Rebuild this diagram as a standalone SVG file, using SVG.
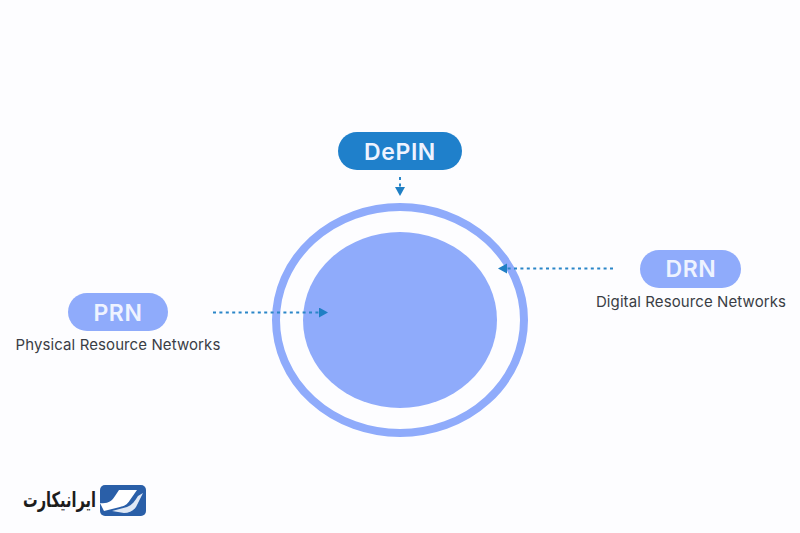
<svg xmlns="http://www.w3.org/2000/svg" width="800" height="533" viewBox="0 0 800 533">
<style>
.pill{fill:#8fabfb}
.lab{font-family:Inter,"Noto Sans","Liberation Sans",sans-serif;font-weight:600;fill:#eef3ff;text-anchor:middle;letter-spacing:.6px}
.sub{font-family:Inter,"Noto Sans","Liberation Sans",sans-serif;font-size:15px;fill:#3a3d45;text-anchor:middle;letter-spacing:.1px}
.dash{fill:none;stroke:#2a86c8;stroke-width:2;stroke-dasharray:3 3.4}
</style>
<defs>
<marker id="ah" markerUnits="userSpaceOnUse" markerWidth="11" markerHeight="11" refX="9" refY="5" orient="auto"><path d="M0 0L9 5L0 10Z" fill="#1f7fc4"/></marker>
</defs>
<rect width="800" height="533" fill="#fdfdff"/>
<g id="circle">
<ellipse cx="400" cy="320" rx="124" ry="113" fill="none" stroke="#8fabfb" stroke-width="8"/>
<ellipse cx="400" cy="320" rx="97" ry="88" fill="#8fabfb"/>
</g>
<g id="connectors">
<path class="dash" d="M400 177V196" marker-end="url(#ah)"/>
<path class="dash" d="M613 268.500H498" marker-end="url(#ah)"/>
<path class="dash" d="M213 312.500H328" marker-end="url(#ah)"/>
</g>
<g id="depin">
<rect x="338" y="132" width="124" height="38" rx="19" fill="#1f80cb"/>
<text class="lab" x="400" y="160" font-size="23">DePIN</text>
</g>
<g id="drn">
<rect x="640" y="250" width="101" height="38" rx="19" class="pill"/>
<text class="lab" x="691" y="277" font-size="23">DRN</text>
<text class="sub" x="691" y="307">Digital Resource Networks</text>
</g>
<g id="prn">
<rect x="68" y="293" width="100" height="38" rx="19" class="pill"/>
<text class="lab" x="118" y="321" font-size="23">PRN</text>
<text class="sub" x="118" y="350">Physical Resource Networks</text>
</g>
<g id="logo">
<rect x="100" y="485" width="46" height="31" rx="5" fill="#2a5fa8"/>
<path d="M100 503C108 504 112 501 115 496L119 490H137L130 500C127 505 124 506 120 507L104 511Z" fill="#fff"/>
<path d="M112 511L127 507C132 505 135 501 138 496L143 493L136 507C133 511 129 513 124 513Z" fill="#dfe8f5"/>
<text x="96" y="507" font-family="'DejaVu Sans',sans-serif" font-weight="700" font-size="21" fill="#1c1c1c" text-anchor="start" direction="rtl" textLength="73" lengthAdjust="spacingAndGlyphs">ایرانیکارت</text>
</g>
</svg>
